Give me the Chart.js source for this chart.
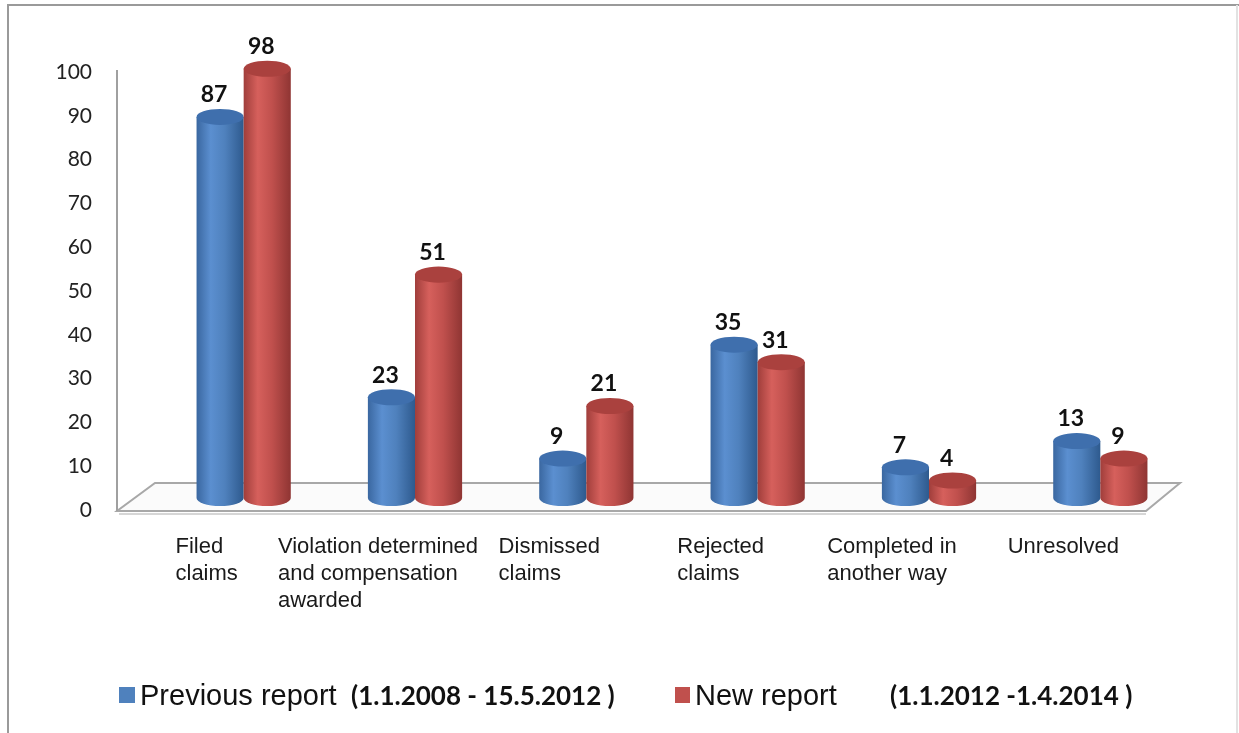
<!DOCTYPE html>
<html lang="en">
<head>
<meta charset="UTF-8">
<title>Claims - previous and new report</title>
<script src="https://cdn.jsdelivr.net/npm/chart.js"></script>
<style>
  body { margin: 0; background: #fff; }
  canvas { display: block; }
</style>
</head>
<body>
<canvas id="claimsChart" width="1239" height="733"></canvas>
<script>
// data
const categories = [
  ['Filed', 'claims'],
  ['Violation determined', 'and compensation', 'awarded'],
  ['Dismissed', 'claims'],
  ['Rejected', 'claims'],
  ['Completed in', 'another way'],
  ['Unresolved']
];
const previousReport = [87, 23, 9, 35, 7, 13];
const newReport = [98, 51, 21, 31, 4, 9];
const seriesNames = ['Previous report', 'New report'];
const seriesPeriods = ['(1.1.2008 - 15.5.2012 )', '(1.1.2012 -1.4.2014 )'];

// cylinder colours: [dark edge, highlight, body, right shade, top cap]
const blueTones = ['#3a67a0', '#5b8fd0', '#4f81bd', '#2e5a8e', '#3f6fad'];
const redTones = ['#a03e3b', '#d6605c', '#c0504d', '#8f3533', '#aa413e'];

function drawCylinder(ctx, x, top, base, w, tones) {
  const rx = w / 2, ry = w * 0.17;
  const g = ctx.createLinearGradient(x - rx, 0, x + rx, 0);
  g.addColorStop(0, tones[0]);
  g.addColorStop(0.3, tones[1]);
  g.addColorStop(0.6, tones[2]);
  g.addColorStop(1, tones[3]);
  ctx.beginPath();
  ctx.moveTo(x - rx, top);
  ctx.lineTo(x - rx, base);
  ctx.ellipse(x, base, rx, ry, 0, Math.PI, 0, true);
  ctx.lineTo(x + rx, top);
  ctx.closePath();
  ctx.fillStyle = g;
  ctx.fill();
  ctx.beginPath();
  ctx.ellipse(x, top, rx, ry, 0, 0, Math.PI * 2);
  ctx.fillStyle = tones[4];
  ctx.fill();
}

const cylinderPlugin = {
  id: 'cylinders',
  beforeDatasetsDraw(chart) {
    const ctx = chart.ctx;
    const a = chart.chartArea;
    const y = chart.scales.y;
    const zero = y.getPixelForValue(0);

    ctx.save();
    // floor
    ctx.beginPath();
    ctx.moveTo(a.left - 41, zero + 13);
    ctx.lineTo(a.right - 40, zero + 13);
    ctx.lineTo(a.right - 6, zero - 15);
    ctx.lineTo(a.left - 3, zero - 15);
    ctx.closePath();
    ctx.fillStyle = '#fbfbfb';
    ctx.fill();
    ctx.strokeStyle = '#a8a8a8';
    ctx.lineWidth = 2;
    ctx.stroke();
    ctx.beginPath();
    ctx.moveTo(a.left - 39, zero + 16);
    ctx.lineTo(a.right - 40, zero + 16);
    ctx.strokeStyle = '#d6d6d6';
    ctx.stroke();

    // vertical axis line
    ctx.beginPath();
    ctx.moveTo(a.left - 41, y.getPixelForValue(100) + 10);
    ctx.lineTo(a.left - 41, zero + 13);
    ctx.strokeStyle = '#a0a0a0';
    ctx.lineWidth = 2;
    ctx.stroke();

    const toneSets = [blueTones, redTones];
    for (let i = 0; i < categories.length; i++) {
      chart.data.datasets.forEach((ds, d) => {
        const bar = chart.getDatasetMeta(d).data[i];
        const p = bar.getProps(['x', 'y', 'base', 'width'], true);
        drawCylinder(ctx, p.x, p.y, p.base, p.width, toneSets[d]);
      });
    }
    ctx.restore();
    return false;
  },
  afterDraw(chart) {
    const ctx = chart.ctx;
    const xs = chart.scales.x;
    ctx.save();

    // frame
    ctx.strokeStyle = '#9a9a9a';
    ctx.lineWidth = 2;
    ctx.beginPath();
    ctx.moveTo(8, 733);
    ctx.lineTo(8, 5);
    ctx.lineTo(1239, 5);
    ctx.stroke();
    ctx.strokeStyle = '#e2e2e2';
    ctx.beginPath();
    ctx.moveTo(1237, 5);
    ctx.lineTo(1237, 733);
    ctx.stroke();

    // value labels
    ctx.fillStyle = '#111';
    ctx.font = 'bold 23px Lato';
    ctx.textAlign = 'center';
    ctx.textBaseline = 'middle';
    chart.data.datasets.forEach((ds, d) => {
      chart.getDatasetMeta(d).data.forEach((bar, i) => {
        ctx.fillText(String(ds.data[i]), bar.x - 6, bar.y - 22);
      });
    });

    // category labels, left aligned block
    ctx.font = '22px "Liberation Sans"';
    ctx.textAlign = 'left';
    ctx.fillStyle = '#1a1a1a';
    categories.forEach((lines, i) => {
      const cx = xs.getPixelForValue(i) - 37;
      const w = Math.max(...lines.map(l => ctx.measureText(l).width));
      lines.forEach((l, k) => ctx.fillText(l, cx - w / 2, 547 + k * 27));
    });

    // legend
    ctx.textBaseline = 'alphabetic';
    ctx.fillStyle = '#4f81bd';
    ctx.fillRect(119, 687, 16, 16);
    ctx.fillStyle = '#c0504d';
    ctx.fillRect(675, 687, 15, 16);
    ctx.fillStyle = '#111';
    ctx.font = '29px "Liberation Sans"';
    ctx.fillText(seriesNames[0], 140, 705, 200);
    ctx.fillText(seriesNames[1], 695, 705, 146);
    ctx.font = 'bold 26px Lato';
    ctx.fillText(seriesPeriods[0], 351, 705, 271);
    ctx.fillText(seriesPeriods[1], 890, 705, 248);
    ctx.restore();
  }
};

new Chart(document.getElementById('claimsChart'), {
  type: 'bar',
  data: {
    labels: categories,
    datasets: [
      { label: seriesNames[0], data: previousReport, backgroundColor: '#4f81bd' },
      { label: seriesNames[1], data: newReport, backgroundColor: '#c0504d' }
    ]
  },
  options: {
    responsive: false,
    animation: false,
    events: [],
    categoryPercentage: 0.55,
    barPercentage: 1.0,
    layout: { padding: { top: 60, right: 53, bottom: 235, left: 0 } },
    plugins: {
      legend: { display: false },
      tooltip: { enabled: false }
    },
    scales: {
      x: { display: false },
      y: {
        min: 0,
        max: 100,
        afterFit(axis) {
          axis.width = 158;
          axis.paddingTop = 0;
          axis.paddingBottom = 0;
        },
        grid: { display: false, drawTicks: false },
        border: { display: false },
        ticks: {
          stepSize: 10,
          padding: 66,
          labelOffset: 12,
          color: '#222',
          font: { family: 'Lato', size: 21 }
        }
      }
    }
  },
  plugins: [cylinderPlugin]
});
</script>
</body>
</html>
